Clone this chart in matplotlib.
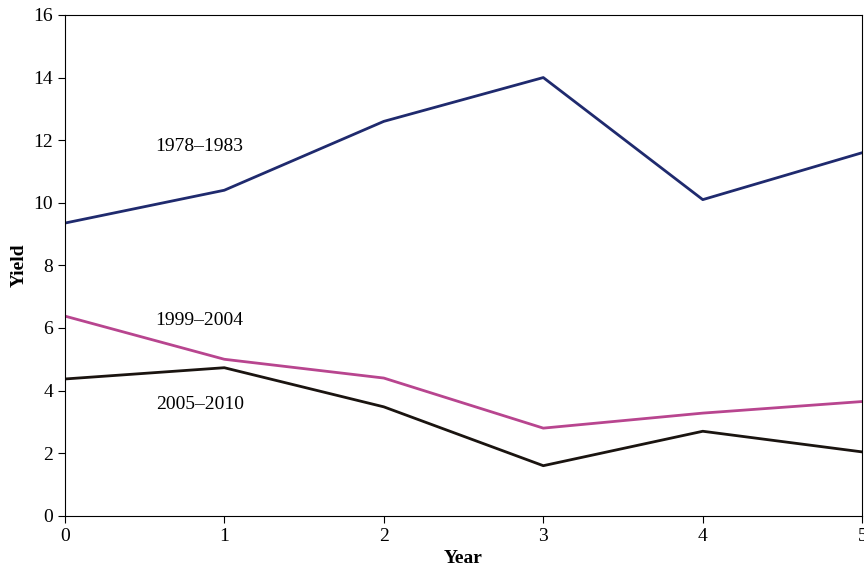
import matplotlib
matplotlib.use("Agg")
import matplotlib.pyplot as plt

years = [0, 1, 2, 3, 4, 5]
yield_1978 = [9.35, 10.4, 12.6, 14.0, 10.1, 11.6]
yield_1999 = [6.38, 5.0, 4.4, 2.8, 3.28, 3.65]
yield_2005 = [4.37, 4.73, 3.48, 1.6, 2.7, 2.04]

plt.rcParams['font.family'] = ['Liberation Serif', 'DejaVu Serif']

fig = plt.figure(figsize=(8.64, 5.75), dpi=100)
ax = fig.add_axes([0.075, 0.103, 0.923, 0.871])

ax.plot(years, yield_1978, color='#1f2a6e', lw=2)
ax.plot(years, yield_1999, color='#b8458f', lw=2)
ax.plot(years, yield_2005, color='#1a1410', lw=2)

ax.text(0.57, 11.8, '1978–1983', fontsize=14, va='center')
ax.text(0.57, 6.23, '1999–2004', fontsize=14, va='center')
ax.text(0.57, 3.55, '2005–2010', fontsize=14, va='center')

ax.set_xlim(0, 5)
ax.set_ylim(0, 16)
ax.set_xticks(years)
ax.set_yticks(range(0, 17, 2))
ax.tick_params(labelsize=14, direction='out', length=5)
ax.set_xlabel('Year', fontsize=14, fontweight='bold')
ax.set_ylabel('Yield', fontsize=14, fontweight='bold')

fig.savefig('out.png', dpi=100)
